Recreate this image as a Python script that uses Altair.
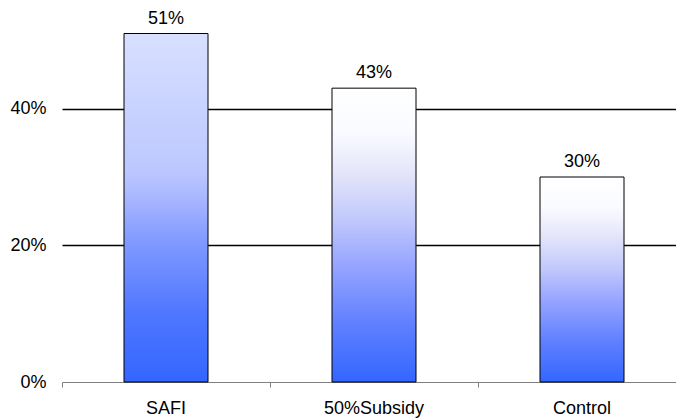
import altair as alt
import pandas as pd

categories = ["SAFI", "50%Subsidy", "Control"]
values = [0.51, 0.43, 0.30]
labels = ["51%", "43%", "30%"]

# gradient stops (offset from bar bottom, colour) for each bar
safi_stops = [(0.0, "#3366FF"), (0.2, "#5077FF"), (0.4, "#8099FF"),
              (0.5, "#A0B0FF"), (0.6, "#BCC7FF"), (1.0, "#D8E0FF")]
white_stops = [(0.0, "#3366FF"), (0.2, "#6080FF"), (0.4, "#97A5FF"),
               (0.55, "#C0C8FC"), (0.7, "#E2E3FA"), (0.85, "#FAFBFF"),
               (1.0, "#FFFFFF")]
bar_stops = [safi_stops, white_stops, white_stops]

df = pd.DataFrame({"cat": categories, "val": values, "lab": labels})

FONT = "Liberation Sans"
FS = 18

x = alt.X("cat:N", sort=categories, title=None,
          scale=alt.Scale(paddingInner=0, paddingOuter=0, range=[0, 624]),
          axis=alt.Axis(labelAngle=0, bandPosition=0,
                        ticks=True, tickSize=5, tickColor="#808080",
                        domainColor="#808080", domainWidth=1,
                        labelPadding=12, labelFont=FONT, labelFontSize=FS,
                        labelColor="#000000", grid=False))
y = alt.Y("val:Q", title=None,
          scale=alt.Scale(domain=[0, 0.54], nice=False),
          axis=alt.Axis(values=[0, 0.2, 0.4], format=".0%", ticks=False,
                        domain=False, labelPadding=16, labelFont=FONT,
                        labelFontSize=FS, labelColor="#000000",
                        grid=True, gridWidth=1.3,
                        gridColor=alt.condition("datum.value == 0",
                                                alt.value("transparent"),
                                                alt.value("#000000"))))

layers = []
for i, c in enumerate(categories):
    grad = alt.Gradient(gradient="linear",
                        stops=[alt.GradientStop(color=col, offset=off)
                               for off, col in bar_stops[i]],
                        x1=0, x2=0, y1=1, y2=0)
    layers.append(
        alt.Chart(df).transform_filter(alt.datum.cat == c)
        .mark_bar(fill=grad, stroke="#000000", strokeWidth=1, width=84)
        .encode(x=x, y=y)
    )

text = alt.Chart(df).mark_text(baseline="alphabetic", dy=-10, font=FONT,
                               fontSize=FS, color="#000000").encode(
    x=alt.X("cat:N", sort=categories), y="val:Q", text="lab:N")

chart = alt.layer(*layers, text).properties(
    width=614, height=369,
    background="#FFFFFF",
    autosize=alt.AutoSizeParams(type="none"),
    padding={"left": 54, "top": 5, "right": 0, "bottom": 36},
).configure_view(strokeWidth=0)

chart.save("out.html", embed_options={"renderer": "svg", "actions": False})
